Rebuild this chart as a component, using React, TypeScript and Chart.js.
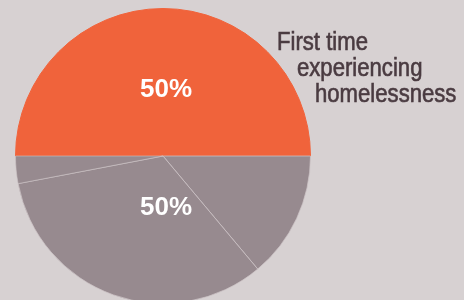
import React, { useEffect, useRef } from "react";
import { Chart, registerables } from "chart.js";

Chart.register(...registerables);

// Slices, in drawing order (clockwise, starting at 9 o'clock)
const categories = ["First time experiencing homelessness", "Other (a)", "Other (b)", "Other (c)"];
const values = [50, 13.9, 33.1, 3.0];
const sliceColors = ["#f0633b", "#978a8f", "#978a8f", "#978a8f"];

// Percentage labels: each groups consecutive slices of the same colour
const labelGroups = [[0], [1, 2, 3]];
const labelRadiusRatio = [0.45, 0.35];

// Call-out text for the orange slice
const calloutLines = ["First time", "experiencing", "homelessness"];

const BG = "#d7d1d2";
const TEXT_DARK = "#4a3b41";

const labelPlugin = {
  id: "pieLabels",
  afterDraw(chart: any) {
    const ctx = chart.ctx as CanvasRenderingContext2D;
    const meta = chart.getDatasetMeta(0);
    const arcs = meta.data as any[];
    const data = chart.data.datasets[0].data as number[];
    const total = data.reduce((a, b) => a + b, 0);
    ctx.save();
    ctx.fillStyle = "#ffffff";
    ctx.font = "bold 26px 'Liberation Sans', Arial, sans-serif";
    ctx.textAlign = "center";
    ctx.textBaseline = "middle";
    labelGroups.forEach((grp, gi) => {
      const first = arcs[grp[0]];
      const last = arcs[grp[grp.length - 1]];
      const mid = (first.startAngle + last.endAngle) / 2;
      const r = first.outerRadius * labelRadiusRatio[gi];
      const x = first.x + Math.cos(mid) * r + 3;
      const y = first.y + Math.sin(mid) * r;
      const pct = Math.round((grp.reduce((s, i) => s + data[i], 0) / total) * 100);
      ctx.fillText(pct + "%", x, y);
    });

    // call-out text
    ctx.fillStyle = TEXT_DARK;
    ctx.strokeStyle = TEXT_DARK;
    ctx.lineWidth = 0.6;
    ctx.font = "25px 'Liberation Sans', Arial, sans-serif";
    ctx.textAlign = "left";
    ctx.textBaseline = "alphabetic";
    const xs = [277, 297, 315];
    const ys = [50, 76, 102];
    calloutLines.forEach((line, i) => {
      ctx.save();
      ctx.translate(xs[i], ys[i]);
      ctx.scale(0.885, 1);
      ctx.fillText(line, 0, 0);
      ctx.strokeText(line, 0, 0);
      ctx.restore();
    });
    ctx.restore();
  },
};

export default function App() {
  const ref = useRef<HTMLCanvasElement | null>(null);

  useEffect(() => {
    if (!ref.current) return;
    const chart = new Chart(ref.current, {
      type: "pie",
      data: {
        labels: categories,
        datasets: [
          {
            data: values,
            backgroundColor: sliceColors,
            borderColor: ["#f0633b", "rgba(205,196,199,0.75)", "rgba(205,196,199,0.75)", "rgba(205,196,199,0.6)"],
            borderWidth: 1,
          },
        ],
      },
      options: {
        responsive: false,
        animation: false,
        rotation: -90,
        layout: { padding: { left: 15, right: 153, top: 8, bottom: 8 } },
        plugins: {
          legend: { display: false },
          tooltip: { enabled: false },
        },
      },
      plugins: [labelPlugin],
    });
    return () => chart.destroy();
  }, []);

  return (
    <div
      style={{
        position: "fixed",
        left: 0,
        top: 0,
        width: 464,
        height: 300,
        overflow: "hidden",
        background: BG,
      }}
    >
      <canvas ref={ref} width={464} height={312} style={{ display: "block" }} />
    </div>
  );
}
